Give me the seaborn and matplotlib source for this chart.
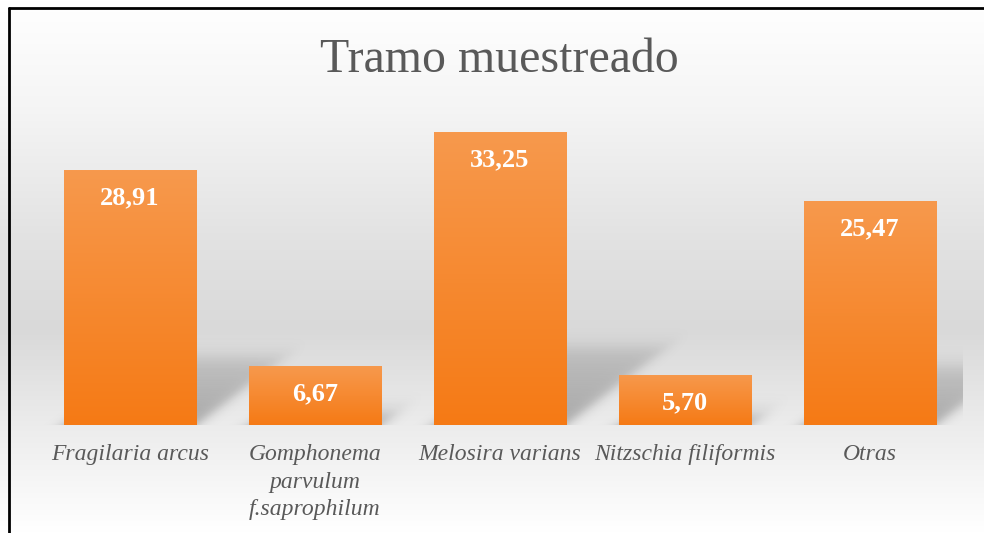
import numpy as np
import pandas as pd
import matplotlib.pyplot as plt
import matplotlib.colors as mcolors
from matplotlib.lines import Line2D
import seaborn as sns

especies = ["Fragilaria arcus", "Gomphonema\nparvulum\nf.saprophilum",
            "Melosira varians", "Nitzschia filiformis", "Otras"]
porcentaje = [28.91, 6.67, 33.25, 5.70, 25.47]
etiquetas = ["28,91", "6,67", "33,25", "5,70", "25,47"]

df = pd.DataFrame({"especie": especies, "porcentaje": porcentaje})

sns.set_theme(style="white")
serif = ["Liberation Serif", "DejaVu Serif"]
plt.rcParams["font.family"] = serif

fig = plt.figure(figsize=(9.84, 5.33), dpi=100)

# chart background: vertical gray gradient
bg = fig.add_axes([0, 0, 1, 1], zorder=-10)
bg_cmap = mcolors.LinearSegmentedColormap.from_list(
    "bg", [(0.0, "#ffffff"), (0.2, "#f5f5f5"), (0.45, "#e2e2e2"),
           (0.62, "#d9d9d9"), (0.8, "#ececec"), (1.0, "#ffffff")])
bg.imshow(np.linspace(0, 1, 256).reshape(-1, 1), cmap=bg_cmap, aspect="auto",
          extent=[0, 1, 0, 1], origin="upper")
bg.axis("off")

# frame lines (left and top)
fig.add_artist(Line2D([9 / 984, 9 / 984], [0, 1 - 8 / 533], color="black", lw=2))
fig.add_artist(Line2D([9 / 984, 1], [1 - 8 / 533, 1 - 8 / 533], color="black", lw=2))

ax = fig.add_axes([37.5 / 984, 108 / 533, 925 / 984, 315 / 533])
ax.set_facecolor("none")
sns.barplot(data=df, x="especie", y="porcentaje", width=0.714, ax=ax,
            color="#f68a30", saturation=1, zorder=3)
ax.set_xlim(-0.5, len(especies) - 0.5)
ax.set_ylim(0, 35.75)

# gradient fill for bars
bar_cmap = mcolors.LinearSegmentedColormap.from_list("bar", ["#f57a15", "#f7994d"])
for p in ax.patches:
    x0, y0 = p.get_x(), p.get_y()
    w, h = p.get_width(), p.get_height()
    im = ax.imshow(np.linspace(0, 1, 128).reshape(-1, 1), cmap=bar_cmap,
                   aspect="auto", origin="lower",
                   extent=[x0, x0 + w, y0, y0 + h], zorder=3)
    im.set_clip_path(p)
    p.set_facecolor("none")
    p.set_edgecolor("none")
ax.set_xlim(-0.5, len(especies) - 0.5)
ax.set_ylim(0, 35.75)

# soft perspective shadows behind bars
xl, yl = ax.get_xlim(), ax.get_ylim()
ppx = ax.bbox.width / (xl[1] - xl[0])
ppy = ax.bbox.height / (yl[1] - yl[0])
X, Y = np.meshgrid(np.linspace(xl[0], xl[1], 925), np.linspace(yl[0], yl[1], 315))
alpha = np.zeros_like(X)
sig = lambda z: 1 / (1 + np.exp(-z))
blur = 5.0
for p in ax.patches:
    x0, x1, h = p.get_x(), p.get_x() + p.get_width(), p.get_height()
    H = 0.27 * h
    d = 1.3 * H * ppy / ppx
    t = Y / H
    dl = (X - (x0 + d * t)) * ppx
    dr = ((x1 + d * t) - X) * ppx
    dt = (H - Y) * ppy
    a = sig(dl / blur) * sig(dr / blur) * sig(dt / blur) * (1 - 0.5 * np.clip(t, 0, 1))
    alpha = np.maximum(alpha, a)
rgba = np.zeros(X.shape + (4,))
rgba[..., 3] = 0.28 * alpha
ax.imshow(rgba, origin="lower", aspect="auto",
          extent=[xl[0], xl[1], yl[0], yl[1]], zorder=1)
ax.set_xlim(xl)
ax.set_ylim(yl)

for p, lab in zip(ax.patches, etiquetas):
    ax.annotate(lab, (p.get_x() + p.get_width() / 2, p.get_height()),
                xytext=(0, -20), textcoords="offset points",
                ha="center", va="center", color="white", family=serif,
                fontsize=19, fontweight="bold", zorder=5)

ax.set_xlabel("")
ax.set_ylabel("")
ax.set_yticks([])
ax.tick_params(axis="x", length=0, pad=14)
for lab in ax.get_xticklabels():
    lab.set_family(serif)
    lab.set_fontstyle("italic")
    lab.set_fontsize(17)
    lab.set_color("#595959")
    lab.set_linespacing(1.38)
    lab.set_verticalalignment("top")
sns.despine(ax=ax, left=True, bottom=True)

fig.text(0.508, 1 - 72 / 533, "Tramo muestreado", ha="center", va="baseline",
         fontsize=34.5, color="#595959", family=serif)

fig.savefig("out.png", dpi=100)
